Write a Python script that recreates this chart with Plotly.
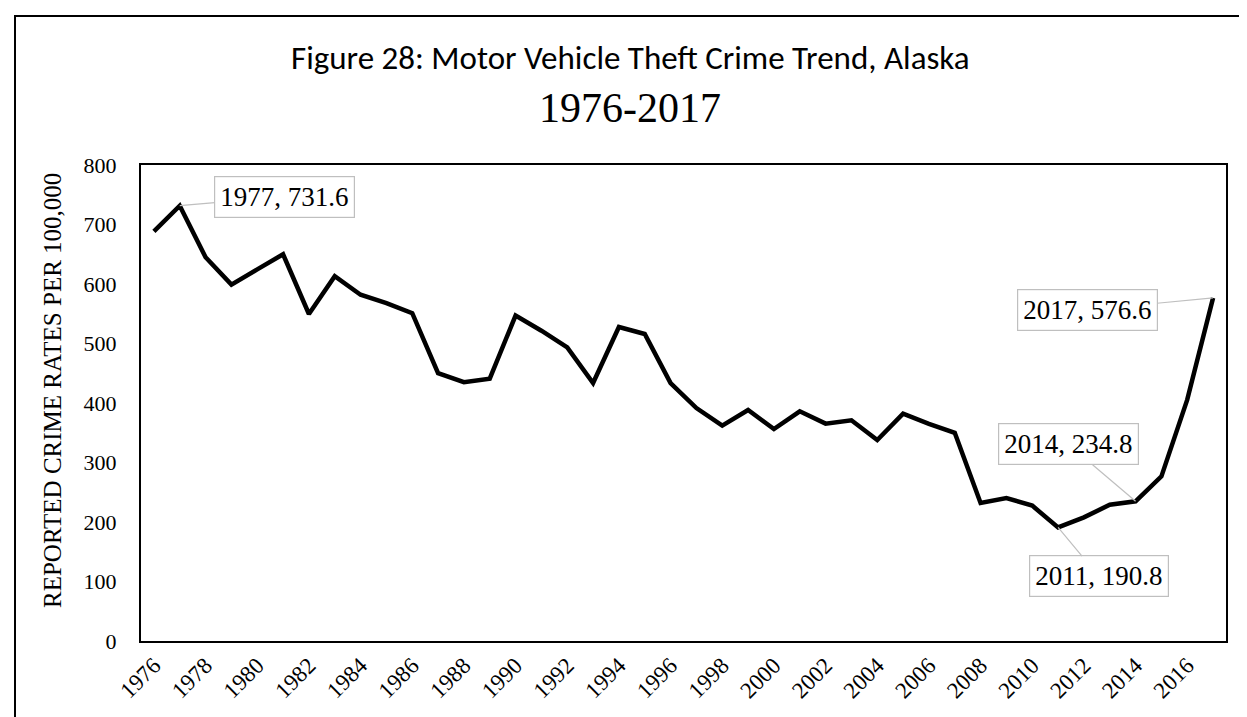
import plotly.graph_objects as go

years = list(range(1976, 2018))
rates = [688.6, 731.6, 645.0, 599.0, 624.6, 650.0, 549.6, 613.0, 582.0, 568.0,
         551.0, 450.0, 435.0, 441.0, 547.0, 521.5, 493.6, 433.6, 527.7, 516.0,
         433.6, 391.6, 361.9, 388.2, 356.3, 386.0, 365.3, 371.0, 337.8, 382.0,
         365.0, 350.0, 232.0, 240.3, 227.5, 190.8, 207.8, 229.0, 234.8, 276.7,
         405.6, 576.6]
tick_years = list(range(1976, 2017, 2))
labeled_years = [1977, 2011, 2014, 2017]
label_offsets = {1977: (105, -9), 2011: (41, 49), 2014: (-67, -57), 2017: (-126, 12)}

W, H = 1247, 717
L, R, T, B = 133, 29, 157, 84
PW, PH = W - L - R, H - T - B

def px_x(p):
    return (p - L) / PW

def px_y(p):
    return (H - B - p) / PH

fig = go.Figure()
fig.add_trace(go.Scatter(x=years, y=rates, mode="lines",
                         line=dict(color="black", width=4.5),
                         hoverinfo="x+y", showlegend=False))

serif = "Liberation Serif, Times New Roman, serif"
annotations = []
for yr in labeled_years:
    v = rates[years.index(yr)]
    ax, ay = label_offsets[yr]
    annotations.append(dict(x=yr, y=v, xref="x", yref="y", text=f"{yr}, {v}",
                            showarrow=True, arrowhead=0, arrowwidth=1.2,
                            arrowcolor="#BFBFBF", ax=ax, ay=ay,
                            bordercolor="#BFBFBF", borderwidth=1.2, borderpad=5,
                            bgcolor="white",
                            font=dict(family=serif, size=27, color="black")))

annotations.append(dict(text="Figure 28: Motor Vehicle Theft Crime Trend, Alaska",
                        x=px_x(622), y=px_y(50), xref="paper", yref="paper",
                        xanchor="center", yanchor="middle", showarrow=False,
                        font=dict(family="Carlito, Lato, sans-serif", size=33, color="black")))
annotations.append(dict(text="1976-2017",
                        x=px_x(622), y=px_y(100), xref="paper", yref="paper",
                        xanchor="center", yanchor="middle", showarrow=False,
                        font=dict(family=serif, size=42, color="black")))
annotations.append(dict(text="REPORTED CRIME RATES PER 100,000",
                        x=px_x(44), y=px_y(383), xref="paper", yref="paper",
                        xanchor="center", yanchor="middle", showarrow=False,
                        textangle=-90,
                        font=dict(family=serif, size=25, color="black")))

fig.update_layout(
    width=W, height=H,
    margin=dict(l=L, r=R, t=T, b=B),
    paper_bgcolor="white", plot_bgcolor="white",
    annotations=annotations,
    shapes=[dict(type="rect", xref="paper", yref="paper",
                 x0=px_x(7), x1=px_x(1241), y0=px_y(760), y1=px_y(8),
                 line=dict(color="black", width=2), fillcolor="rgba(0,0,0,0)",
                 layer="below")],
    xaxis=dict(range=[1975.5, 2017.5], tickmode="array", tickvals=tick_years,
               ticktext=[str(y) for y in tick_years], tickangle=-45,
               showgrid=False, zeroline=False, showline=True, mirror=True,
               linecolor="black", linewidth=2, ticks="",
               tickfont=dict(family=serif, size=23, color="black")),
    yaxis=dict(range=[0, 800], dtick=100, showgrid=False, zeroline=False,
               showline=True, mirror=True, linecolor="black", linewidth=2,
               ticks="", ticklabelstandoff=18,
               tickfont=dict(family=serif, size=22, color="black")),
)

fig.write_html("out.html")
